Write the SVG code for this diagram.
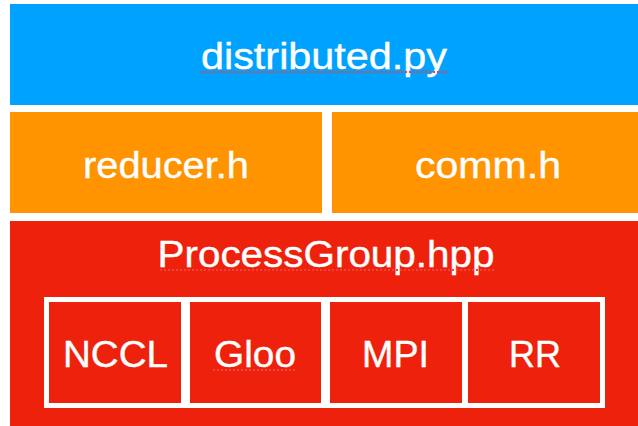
<svg xmlns="http://www.w3.org/2000/svg" width="638" height="426" viewBox="0 0 638 426">
  <style>
    .lbl { font-family: "Liberation Sans", Arial, sans-serif; font-size: 37px; fill: #ffffff; stroke: #ffffff; stroke-width: 0.4; text-anchor: middle; }
    .blue { fill: #00A2FF; }
    .orange { fill: #FF9300; }
    .red { fill: #EE220C; }
    .squiggle { stroke: #F0413A; stroke-width: 2; stroke-dasharray: 2 2; fill: none; }
  </style>
  <rect x="0" y="0" width="638" height="426" fill="#ffffff"/>

  <g id="distributed">
    <rect class="blue" x="10" y="4" width="628" height="101"/>
    <text class="lbl" x="324" y="69" textLength="246" lengthAdjust="spacingAndGlyphs">distributed.py</text>
    <line class="squiggle" x1="201" y1="72" x2="449" y2="72"/>
  </g>

  <g id="reducer">
    <rect class="orange" x="10" y="112" width="312" height="101"/>
    <text class="lbl" x="166" y="178" textLength="166" lengthAdjust="spacingAndGlyphs">reducer.h</text>
  </g>

  <g id="comm">
    <rect class="orange" x="332" y="112" width="306" height="101"/>
    <text class="lbl" x="488" y="178" textLength="146" lengthAdjust="spacingAndGlyphs">comm.h</text>
  </g>

  <g id="processgroup">
    <rect class="red" x="10" y="221" width="628" height="205"/>
    <text class="lbl" x="326" y="267" textLength="337" lengthAdjust="spacingAndGlyphs">ProcessGroup.hpp</text>
    <line class="squiggle" x1="160" y1="270" x2="496" y2="270"/>
    <rect x="44" y="297" width="561" height="111" fill="#ffffff"/>
  </g>

  <g id="nccl">
    <rect class="red" x="49" y="302" width="132" height="101"/>
    <text class="lbl" x="115.5" y="367" textLength="105" lengthAdjust="spacingAndGlyphs">NCCL</text>
  </g>

  <g id="gloo">
    <rect class="red" x="190" y="302" width="131" height="101"/>
    <text class="lbl" x="255" y="367" textLength="82" lengthAdjust="spacingAndGlyphs">Gloo</text>
    <line class="squiggle" x1="213" y1="370" x2="297" y2="370"/>
  </g>

  <g id="mpi">
    <rect class="red" x="330" y="302" width="132" height="101"/>
    <text class="lbl" x="395.5" y="367" textLength="67" lengthAdjust="spacingAndGlyphs">MPI</text>
  </g>

  <g id="rr">
    <rect class="red" x="468" y="302" width="132" height="101"/>
    <text class="lbl" x="535" y="367" textLength="52" lengthAdjust="spacingAndGlyphs">RR</text>
  </g>

  <g id="connectors"></g>
</svg>
